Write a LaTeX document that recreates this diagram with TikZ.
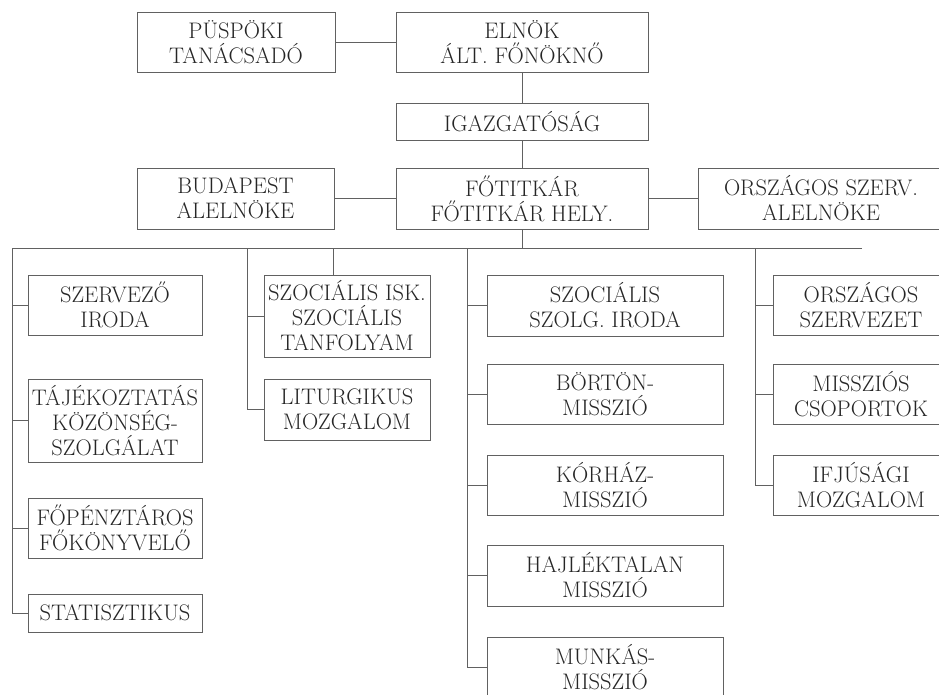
\documentclass[tikz,border=0pt]{standalone}
\usepackage{fontspec}
\usepackage{tikz}
\usetikzlibrary{calc,positioning}
\newcommand{\myunit}{1pt}
\colorlet{inkgray}{black!85}
\colorlet{linegray}{black!62}
\tikzset{
    boxsty/.style n args={2}{draw=linegray,line width=0.8pt,rectangle,inner sep=0pt,align=center,
      text=inkgray,font=\fontsize{22.5}{25}\selectfont\addfontfeatures{FakeBold=0.6},
      minimum width=#1*\myunit,minimum height=#2*\myunit,anchor=center},
    linesty/.style={draw=linegray,line width=0.8pt},
}

\begin{document}
\begin{tikzpicture}[x=\myunit,y=-\myunit]
\useasboundingbox (0,0) rectangle (939,695);

% top of the chart
\node[boxsty={198}{60}] (pusp)  at (236,42)    {PÜSPÖKI\\TANÁCSADÓ};
\node[boxsty={252}{60}] (elnok) at (522,42)    {ELNÖK\\ÁLT. FŐNÖKNŐ};
\node[boxsty={252}{37}] (igaz)  at (522,121.5) {IGAZGATÓSÁG};
\node[boxsty={197}{61}] (buda)  at (235.5,198.5) {BUDAPEST\\ALELNÖKE};
\node[boxsty={252}{61}] (fotit) at (522,198.5) {FŐTITKÁR\\FŐTITKÁR HELY.};
\node[boxsty={246}{61}] (orsz)  at (821,198.5) {ORSZÁGOS SZERV.\\ALELNÖKE};

\draw[linesty] (pusp) -- (elnok);
\draw[linesty] (elnok) -- (igaz);
\draw[linesty] (igaz) -- (fotit);
\draw[linesty] (buda) -- (fotit);
\draw[linesty] (fotit) -- (orsz);

% bus line
\coordinate (busL) at (12,248);
\coordinate (busR) at (862,248);
\coordinate (bus2) at (247,248);
\coordinate (bus2b) at (333,248);
\coordinate (bus3) at (467,248);
\coordinate (bus4) at (755,248);
\draw[linesty] (fotit.south) -- (fotit.south |- busL);

% left column
\node[boxsty={174}{60}] (szerv)  at (115,305)   {SZERVEZŐ\\IRODA};
\node[boxsty={174}{83}] (tajek)  at (115,420.5) {TÁJÉKOZTATÁS\\KÖZÖNSÉG-\\SZOLGÁLAT};
\node[boxsty={174}{60}] (fopenz) at (115,528)   {FŐPÉNZTÁROS\\FŐKÖNYVELŐ};
\node[boxsty={174}{38}] (stat)   at (115,613)   {STATISZTIKUS};

% second column
\node[boxsty={166}{82}] (szocisk) at (347,316)   {SZOCIÁLIS ISK.\\SZOCIÁLIS\\TANFOLYAM};
\node[boxsty={166}{61}] (litur)   at (347,409.5) {LITURGIKUS\\MOZGALOM};

% third column
\node[boxsty={236}{61}] (szszolg) at (605,305.5) {SZOCIÁLIS\\SZOLG. IRODA};
\node[boxsty={236}{60}] (bortn)   at (605,394)   {BÖRTÖN-\\MISSZIÓ};
\node[boxsty={236}{60}] (korh)    at (605,485)   {KÓRHÁZ-\\MISSZIÓ};
\node[boxsty={236}{61}] (hajl)    at (605,575.5) {HAJLÉKTALAN\\MISSZIÓ};
\node[boxsty={236}{60}] (munk)    at (605,667)   {MUNKÁS-\\MISSZIÓ};

% fourth column
\node[boxsty={176}{60}] (orszorg) at (861,305) {ORSZÁGOS\\SZERVEZET};
\node[boxsty={176}{60}] (missz)   at (861,394) {MISSZIÓS\\CSOPORTOK};
\node[boxsty={176}{60}] (ifju)    at (861,485) {IFJÚSÁGI\\MOZGALOM};

% connectors
\draw[linesty] (busR) -- (busL) |- (stat.west);
\foreach \n in {szerv,tajek,fopenz}
  \draw[linesty] (\n.west) -- (\n.west -| busL);

\draw[linesty] (bus2) |- (litur.west);
\draw[linesty] (szocisk.west) -- (szocisk.west -| bus2);
\draw[linesty] (bus2b) -- (bus2b |- szocisk.north);

\draw[linesty] (bus3) |- (munk.west);
\foreach \n in {szszolg,bortn,korh,hajl}
  \draw[linesty] (\n.west) -- (\n.west -| bus3);

\draw[linesty] (bus4) |- (ifju.west);
\foreach \n in {orszorg,missz}
  \draw[linesty] (\n.west) -- (\n.west -| bus4);

\end{tikzpicture}
\end{document}
